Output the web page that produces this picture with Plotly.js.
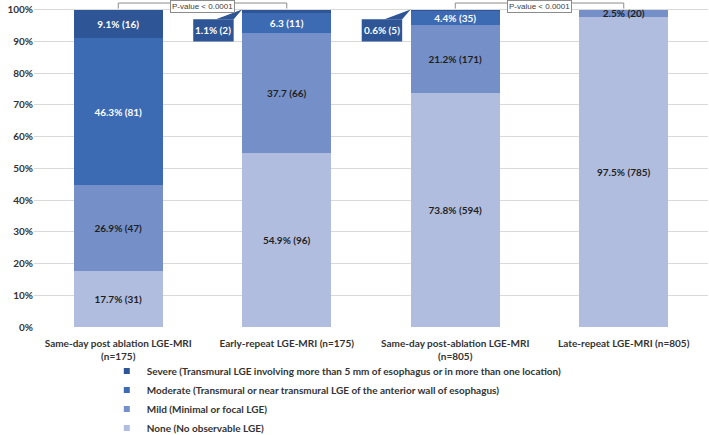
<!DOCTYPE html>
<html>
<head>
<meta charset="utf-8">
<script src="https://cdn.plot.ly/plotly-3.0.1.min.js"></script>
<style>html,body{margin:0;padding:0;background:#fff;}#chart{width:709px;height:435px;}</style>
</head>
<body>
<div id="chart"></div>
<script>
const categories = [
  "Same-day post ablation LGE-MRI<br>(n=175)",
  "Early-repeat LGE-MRI (n=175)",
  "Same-day post-ablation LGE-MRI<br>(n=805)",
  "Late-repeat LGE-MRI (n=805)"
];
const seriesNames = [
  "None (No observable LGE)",
  "Mild (Minimal or focal LGE)",
  "Moderate (Transmural or near transmural LGE of the anterior wall of esophagus)",
  "Severe (Transmural LGE involving more than 5 mm of esophagus or in more than one location)"
];
const noneVals = [17.7, 54.9, 73.8, 97.5];
const mildVals = [26.9, 37.7, 21.2, 2.5];
const moderateVals = [46.3, 6.3, 4.4, 0];
const severeVals = [9.1, 1.1, 0.6, 0];
const noneLabels = ["17.7% (31)", "54.9% (96)", "73.8% (594)", "97.5% (785)"];
const mildLabels = ["26.9% (47)", "37.7 (66)", "21.2% (171)", "2.5% (20)"];
const moderateLabels = ["46.3% (81)", "6.3 (11)", "4.4% (35)", ""];
const severeLabels = ["9.1% (16)", "", "", ""];
// severe values shown in callout boxes beside bars 2 and 3
const calloutIdx = [1, 2];
const calloutLabels = ["1.1% (2)", "0.6% (5)"];
const pBrackets = [[0, 1], [2, 3]];
const pText = "P-value < 0.0001";

const colors = ["#B1BDDE", "#7590C9", "#3C6BB4", "#2E5596"];
const FONT = "Lato, sans-serif";

const vals = [noneVals, mildVals, moderateVals, severeVals];
const labs = [noneLabels, mildLabels, moderateLabels, severeLabels];
const txtCol = ["#1f1f1f", "#1f1f1f", "#ffffff", "#ffffff"];

const traces = vals.map((v, k) => ({
  type: "bar",
  name: seriesNames[k],
  x: categories,
  y: v,
  text: labs[k],
  texttemplate: "%{text}",
  textposition: "inside",
  insidetextanchor: "middle",
  textangle: 0,
  constraintext: "none",
  insidetextfont: {family: FONT, size: 10, color: txtCol[k], weight: "bold"},
  marker: {color: colors[k], line: {width: 0}},
  showlegend: false,
  hoverinfo: "none"
}));
// legend entries with small square swatches
seriesNames.forEach((n, k) => {
  traces.push({type: "scatter", mode: "markers", name: n, x: [null], y: [null],
    marker: {symbol: "square", size: 6, color: colors[k]}, showlegend: true, hoverinfo: "none"});
});

const shapes = [];
const annotations = [];
const halfW = 0.265;
calloutIdx.forEach((i, j) => {
  const x0 = i - 0.555, x1 = i - 0.315, y0 = 89.9, y1 = 96.9;
  shapes.push({type: "rect", xref: "x", yref: "y", x0: x0, x1: x1, y0: y0, y1: y1,
    fillcolor: colors[3], line: {width: 0}});
  shapes.push({type: "path", xref: "x", yref: "y",
    path: `M ${i - 0.42},${y1} L ${x1},${y1} L ${i - halfW},100 Z`,
    fillcolor: colors[3], line: {width: 0}});
  annotations.push({xref: "x", yref: "y", x: (x0 + x1) / 2, y: (y0 + y1) / 2,
    text: calloutLabels[j], showarrow: false,
    font: {family: FONT, size: 10, color: "#ffffff", weight: "bold"}});
});
pBrackets.forEach(([a, b]) => {
  shapes.push({type: "path", xref: "x", yref: "y",
    path: `M ${a},100.3 L ${a},102.05 L ${b},102.05 L ${b},100.3`,
    line: {color: "#8c8c8c", width: 1}});
  annotations.push({xref: "x", yref: "y", x: (a + b) / 2, y: 100.8, yanchor: "middle",
    text: pText, showarrow: false, bgcolor: "#ffffff",
    bordercolor: "#8c8c8c", borderwidth: 1, borderpad: 1,
    font: {family: "Liberation Sans, Arial, sans-serif", size: 8, color: "#404040"}});
});

const layout = {
  width: 709, height: 435,
  margin: {l: 34, r: 1, t: 0, b: 108, autoexpand: false},
  barmode: "stack",
  bargap: 0.47,
  paper_bgcolor: "#ffffff",
  plot_bgcolor: "#ffffff",
  font: {family: FONT, size: 10, color: "#333333"},
  xaxis: {type: "category", showgrid: false, zeroline: false, showline: false,
    ticks: "", ticklabelstandoff: 9,
    tickfont: {family: FONT, size: 10, color: "#333333", weight: "bold"}},
  yaxis: {range: [0, 103], dtick: 10, tick0: 0, ticksuffix: "%", showgrid: true,
    gridcolor: "#D9D9D9", gridwidth: 1, zeroline: false, showline: false, ticks: "",
    tickfont: {family: FONT, size: 10, color: "#333333", weight: "bold"}},
  showlegend: true,
  legend: {orientation: "v", traceorder: "reversed", x: 0.108, xanchor: "left",
    y: -0.09, yanchor: "top", font: {family: FONT, size: 10, color: "#333333", weight: "bold"},
    itemwidth: 30, tracegroupgap: 0, bgcolor: "rgba(0,0,0,0)"},
  shapes: shapes,
  annotations: annotations
};

Plotly.newPlot("chart", traces, layout, {staticPlot: true, displayModeBar: false});
</script>
</body>
</html>
